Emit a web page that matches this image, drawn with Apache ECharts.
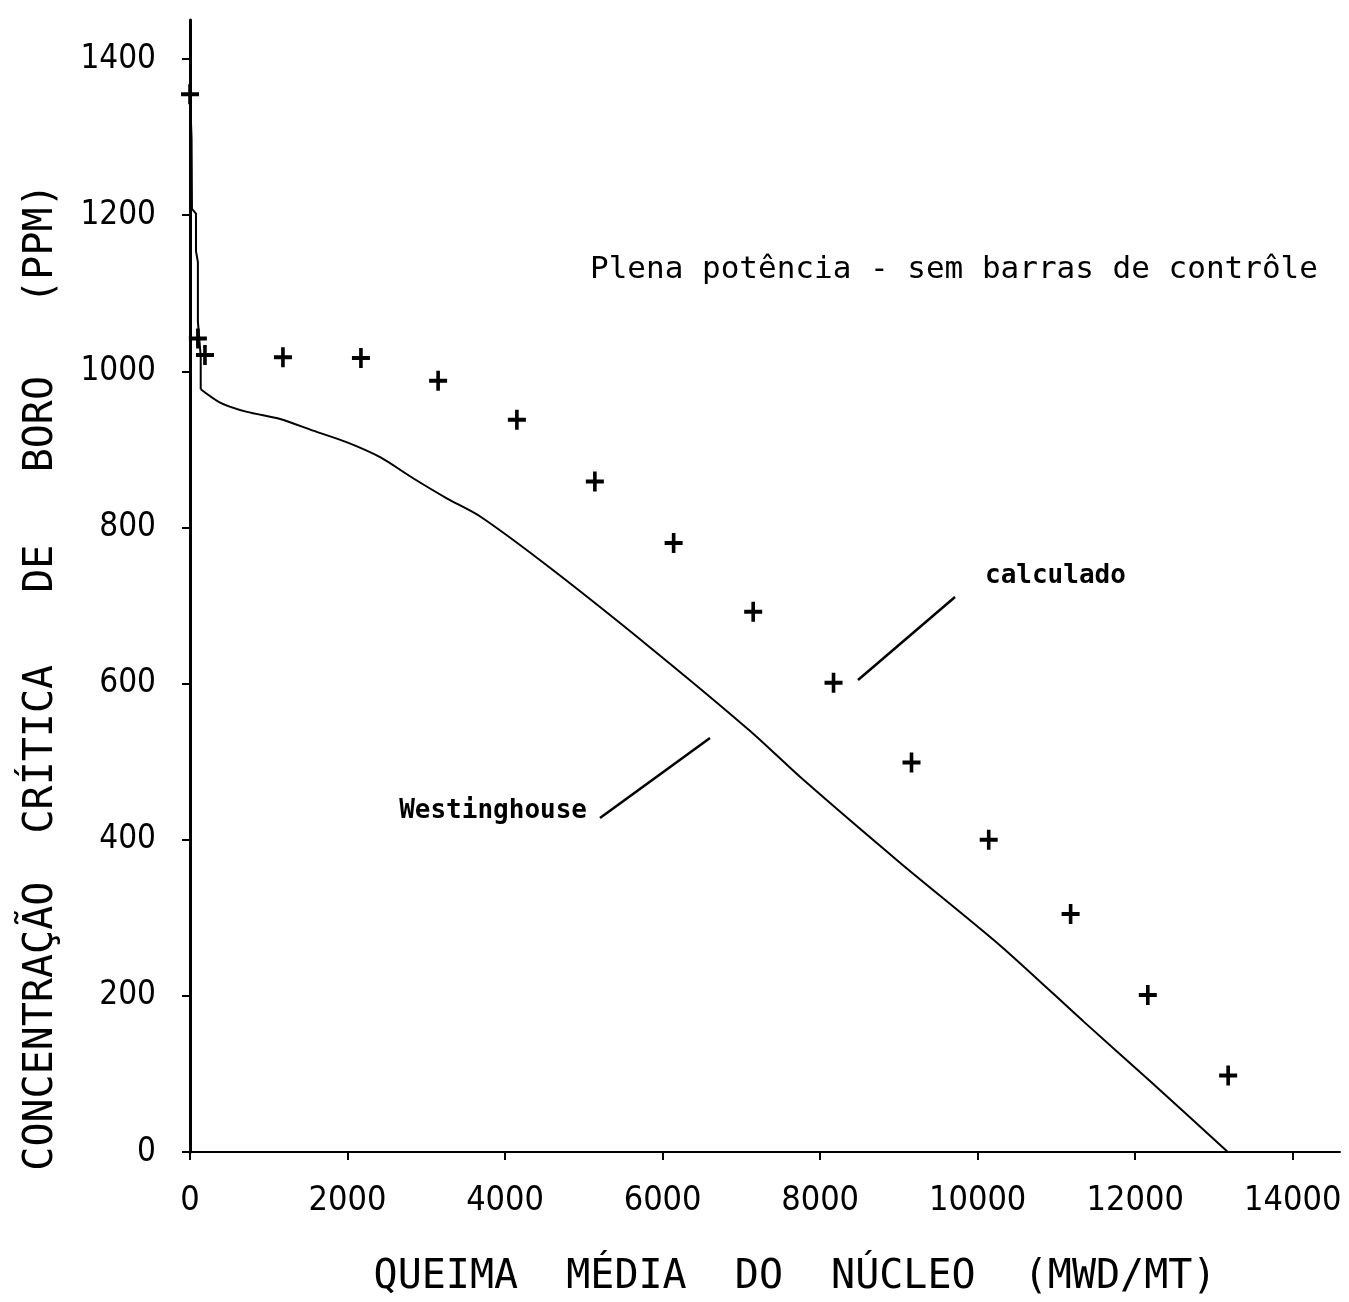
<!DOCTYPE html>
<html><head><meta charset="utf-8">
<script src="https://cdn.jsdelivr.net/npm/echarts@6/dist/echarts.min.js"></script>
<style>html,body{margin:0;padding:0;background:#fff}#c{width:1349px;height:1302px}</style>
</head><body><div id="c"></div>
<script>
// ---- data ----
const xTicks = [0, 2000, 4000, 6000, 8000, 10000, 12000, 14000];
const yTicks = [0, 200, 400, 600, 800, 1000, 1200, 1400];

// Westinghouse curve (burnup MWD/MT, boron ppm): steep start near zero burnup
const westHeadX = [0, 20, 25, 76, 76, 100, 100, 136, 136];
const westHeadY = [1355, 1298, 1208, 1202, 1154, 1140, 1064, 1019, 977];
// Westinghouse curve: main part
const westX = [136, 381, 724, 1144, 1563, 1995, 2414, 2833, 3265, 3685, 4574, 5845, 7115, 7751, 9021, 10292, 11346, 12198, 13176];
const westY = [977, 960, 948, 939, 924, 909, 890, 863, 837, 814, 748, 646, 539, 480, 370, 264, 167, 90, 0];

// calculated points (+)
const calcX = [0, 100, 190, 1180, 2170, 3150, 4150, 5140, 6140, 7150, 8170, 9160, 10140, 11180, 12160, 13180];
const calcY = [1355, 1042, 1021, 1018, 1017, 988, 938, 859, 780, 692, 601, 499, 400, 305, 201, 98];

const xTitle = 'QUEIMA  MÉDIA  DO  NÚCLEO  (MWD/MT)';
const yTitle = 'CONCENTRAÇÃO  CRÍTICA   DE   BORO   (PPM)';
const noteTitle = 'Plena potência - sem barras de contrôle';
const noteCalc = 'calculado';
const noteWest = 'Westinghouse';

// ---- chart ----
const numFont = "'DejaVu Sans Condensed', 'DejaVu Sans', sans-serif";
const plus = 'path://M-10,-2 L10,-2 L10,2 L-10,2 Z M-2,-10 L2,-10 L2,10 L-2,10 Z';
const plain = v => String(v);

const chart = echarts.init(document.getElementById('c'), null, {renderer: 'canvas'});
chart.setOption({
  animation: false,
  backgroundColor: '#fff',
  grid: {left: 190, top: 20, right: 9, bottom: 150, containLabel: false},
  xAxis: {
    type: 'value', min: 0, max: 14600,
    axisLine: {show: true, onZero: false, lineStyle: {color: '#000', width: 2}},
    axisTick: {show: true, length: 8, lineStyle: {color: '#000', width: 2}, customValues: xTicks},
    axisLabel: {color: '#000', fontSize: 34, fontFamily: numFont, margin: 32, formatter: plain, customValues: xTicks},
    splitLine: {show: false}
  },
  yAxis: {
    type: 'value', min: 0, max: 1450,
    axisLine: {show: true, onZero: false, lineStyle: {color: '#000', width: 3}},
    axisTick: {show: true, length: 8, lineStyle: {color: '#000', width: 2}, customValues: yTicks},
    axisLabel: {color: '#000', fontSize: 33, fontFamily: numFont, margin: 34, formatter: plain, customValues: yTicks},
    splitLine: {show: false}
  },
  series: [
    {
      name: 'Westinghouse', type: 'line', symbol: 'none', clip: false,
      lineStyle: {color: '#000', width: 2},
      data: westHeadX.map((x, i) => [x, westHeadY[i]])
    },
    {
      name: 'Westinghouse', type: 'line', symbol: 'none', clip: false,
      smooth: 0.25,
      lineStyle: {color: '#000', width: 2},
      data: westX.map((x, i) => [x, westY[i]])
    },
    {
      name: 'calculado', type: 'scatter', symbol: plus, symbolSize: [18, 20],
      itemStyle: {color: '#000', opacity: 1},
      data: calcX.map((x, i) => [x, calcY[i]])
    }
  ],
  graphic: [
    {type: 'text', x: 42, y: 677, rotation: Math.PI / 2,
     style: {text: yTitle, font: "40px 'DejaVu Sans Mono', monospace", fill: '#000', align: 'center', verticalAlign: 'middle'}},
    {type: 'text', x: 795, y: 1278,
     style: {text: xTitle, font: "40px 'DejaVu Sans Mono', monospace", fill: '#000', align: 'center', verticalAlign: 'middle'}},
    {type: 'text', x: 590, y: 270,
     style: {text: noteTitle, font: "31px 'DejaVu Sans Mono', monospace", fill: '#000', align: 'left', verticalAlign: 'middle'}},
    {type: 'text', x: 985, y: 576,
     style: {text: noteCalc, font: "bold 26px 'DejaVu Sans Mono', monospace", fill: '#000', align: 'left', verticalAlign: 'middle'}},
    {type: 'text', x: 587, y: 811,
     style: {text: noteWest, font: "bold 26px 'DejaVu Sans Mono', monospace", fill: '#000', align: 'right', verticalAlign: 'middle'}},
    {type: 'line', shape: {x1: 955, y1: 597, x2: 858, y2: 680}, style: {stroke: '#000', lineWidth: 2.5}},
    {type: 'line', shape: {x1: 600, y1: 818, x2: 710, y2: 738}, style: {stroke: '#000', lineWidth: 2.5}}
  ]
});
</script>
</body></html>
